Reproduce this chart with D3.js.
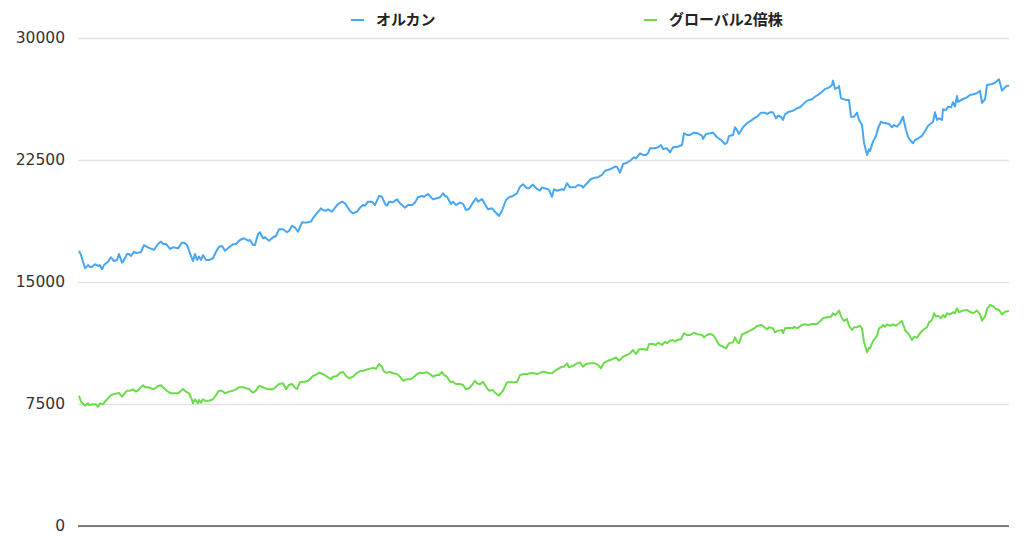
<!DOCTYPE html>
<html lang="ja">
<head>
    <meta charset="UTF-8" />
    <title>オルカン vs グローバル2倍株</title>
    <script src="https://d3js.org/d3.v7.min.js"></script>
    <style>
        body {
            margin: 0;
            background: #fff;
            overflow: hidden;
        }
        .tick text {
            font-family: "DejaVu Sans", sans-serif;
            font-size: 15.5px;
            fill: #333;
        }
        .legend text {
            font-family: "Noto Sans CJK JP", sans-serif;
            font-size: 15px;
            font-weight: bold;
            fill: #222;
        }
    </style>
</head>
<body>
<script>
    // 系列名
    const seriesNames = ['オルカン', 'グローバル2倍株'];
    const yTicks = [0, 7500, 15000, 22500, 30000];

    // オルカン (経過日数, 評価額)
    const orukanDay = [
        1, 3, 7, 10, 12, 14, 17, 21, 22, 24,
        26, 30, 33, 36, 39, 41, 44, 45, 49, 51,
        53, 56, 58, 63, 66, 70, 76, 80, 83, 85,
        88, 92, 95, 100, 104, 106, 109, 113, 115, 117,
        119, 121, 123, 125, 128, 131, 135, 138, 141, 144,
        147, 151, 155, 158, 162, 166, 170, 172, 175, 177,
        180, 182, 185, 187, 191, 195, 198, 201, 205, 209,
        211, 214, 217, 220, 224, 228, 233, 235, 238, 243,
        245, 248, 250, 254, 257, 260, 264, 267, 272, 275,
        279, 282, 285, 287, 290, 294, 297, 301, 304, 307,
        309, 311, 315, 319, 322, 327, 330, 334, 337, 340,
        344, 346, 350, 355, 359, 362, 365, 367, 369, 373,
        375, 378, 382, 385, 388, 391, 395, 398, 400, 404,
        407, 410, 414, 417, 421, 424, 428, 431, 435, 439,
        442, 445, 449, 451, 455, 459, 462, 464, 469, 471,
        474, 476, 479, 484, 486, 489, 492, 497, 500, 504,
        505, 509, 513, 517, 520, 524, 527, 532, 537, 539,
        542, 545, 549, 553, 556, 558, 562, 565, 568, 570,
        572, 577, 580, 583, 585, 589, 592, 595, 600, 604,
        606, 609, 612, 616, 620, 624, 625, 628, 632, 635,
        639, 643, 647, 649, 651, 655, 657, 659, 661, 665,
        669, 673, 676, 679, 683, 687, 689, 692, 695, 698,
        700, 703, 705, 707, 711, 715, 719, 722, 725, 729,
        734, 737, 740, 744, 747, 751, 754, 755, 757, 760,
        761, 763, 766, 768, 771, 773, 776, 779, 781, 784,
        786, 789, 791, 792, 795, 798, 800, 803, 805, 808,
        811, 814, 816, 819, 822, 825, 828, 830, 832, 835,
        837, 839, 844, 847, 850, 855, 857, 859, 861, 864,
        865, 868, 870, 873, 875, 877, 879, 880, 885, 889,
        892, 895, 899, 902, 904, 907, 909, 914, 917, 919,
        921, 924, 927, 929, 931
    ];
    const orukan = [
        16910, 16660, 15840, 16040, 15920, 15940, 16090, 15980, 16040, 15780,
        16040, 16250, 16520, 16290, 16350, 16720, 16190, 16250, 16720, 16720,
        16600, 16860, 16780, 16830, 17270, 17130, 16970, 17340, 17480, 17340,
        17340, 17030, 17130, 17070, 17420, 17420, 17270, 16600, 16290, 16720,
        16350, 16560, 16350, 16660, 16350, 16350, 16460, 16860, 17170, 17210,
        16920, 17130, 17320, 17340, 17580, 17690, 17540, 17580, 17270, 17270,
        17950, 18060, 17690, 17750, 17540, 17750, 17830, 18240, 18240, 18060,
        18140, 18460, 18340, 18090, 18670, 18650, 18720, 18920, 19150, 19530,
        19430, 19380, 19470, 19320, 19570, 19780, 19940, 19840, 19360, 19220,
        19320, 19570, 19730, 19690, 19940, 19940, 19730, 20290, 20240, 19800,
        19690, 19940, 19900, 20080, 19840, 19570, 19730, 19730, 19880, 20210,
        20290, 20240, 20410, 20080, 20150, 20210, 20450, 20290, 20240, 19800,
        19940, 19730, 19880, 19800, 19430, 19490, 19880, 20150, 19940, 20100,
        19780, 19470, 19530, 19320, 19060, 19380, 20040, 20210, 20290, 20450,
        20860, 21010, 20760, 20760, 20990, 20720, 20620, 20820, 20720, 20660,
        20240, 20700, 20610, 20700, 20660, 21070, 20820, 20820, 20960, 20900,
        20800, 21070, 21330, 21410, 21440, 21580, 21840, 21930, 22090, 22090,
        21720, 22250, 22330, 22500, 22670, 22600, 22910, 22810, 22810, 22910,
        23220, 23220, 23280, 23420, 23180, 23220, 22970, 23280, 23320, 23420,
        24140, 24040, 24040, 24180, 24140, 23990, 23790, 24100, 24140, 24180,
        23900, 23730, 23480, 23560, 23980, 24040, 24510, 24340, 24100, 24510,
        24760, 24920, 25060, 25160, 25410, 25410, 25330, 25430, 25430, 25060,
        25220, 25160, 24960, 25310, 25470, 25530, 25680, 25740, 25920, 26150,
        26230, 26390, 26500, 26700, 26870, 26950, 27110, 27380, 26870, 26970,
        27050, 26290, 26230, 26190, 26190, 25160, 25160, 25410, 24960, 24650,
        23560, 22810, 23160, 23050, 23630, 23980, 24450, 24850, 24790, 24760,
        24710, 24510, 24650, 24550, 24760, 25160, 24340, 23930, 23730, 23530,
        23730, 23790, 23980, 24280, 24590, 24850, 25430, 24960, 25060, 24960,
        25620, 25570, 25780, 25740, 26050, 25780, 26430, 26080, 26250, 26350,
        26500, 26540, 26600, 26760, 26020, 26230, 27110, 27170, 27250, 27360,
        27460, 26760, 26970, 27070, 27070
    ];

    // グローバル2倍株 (経過日数, 評価額)
    const globalDay = [
        1, 3, 7, 10, 11, 15, 18, 20, 22, 25,
        27, 30, 33, 36, 40, 41, 44, 46, 49, 52,
        55, 58, 61, 65, 67, 70, 73, 76, 80, 83,
        85, 90, 93, 96, 100, 102, 105, 108, 111, 114,
        115, 117, 120, 121, 123, 125, 127, 131, 135, 138,
        141, 144, 147, 151, 155, 158, 161, 165, 168, 171,
        175, 178, 181, 184, 187, 191, 195, 197, 201, 205,
        208, 211, 214, 216, 219, 222, 226, 230, 235, 238,
        241, 245, 249, 253, 255, 259, 262, 265, 268, 271,
        275, 279, 283, 286, 289, 293, 296, 298, 301, 304,
        306, 309, 312, 315, 319, 322, 325, 329, 332, 335,
        339, 342, 345, 349, 352, 355, 359, 361, 364, 366,
        369, 372, 375, 378, 382, 385, 388, 391, 394, 397,
        399, 402, 405, 408, 411, 415, 417, 421, 425, 429,
        432, 435, 439, 442, 446, 449, 452, 455, 459, 462,
        465, 470, 474, 477, 481, 484, 486, 489, 491, 495,
        499, 502, 505, 508, 512, 517, 520, 523, 526, 530,
        535, 538, 541, 545, 549, 552, 555, 558, 561, 565,
        569, 571, 575, 578, 580, 584, 587, 589, 592, 595,
        597, 599, 603, 606, 609, 612, 616, 620, 624, 626,
        629, 632, 635, 638, 641, 645, 648, 651, 655, 657,
        659, 661, 664, 668, 672, 676, 679, 683, 685, 689,
        691, 695, 697, 700, 704, 705, 707, 712, 715, 716,
        719, 724, 727, 730, 734, 739, 741, 745, 749, 753,
        755, 757, 759, 761, 764, 766, 769, 771, 774, 776,
        779, 782, 784, 786, 789, 791, 792, 795, 799, 801,
        804, 805, 807, 809, 812, 815, 818, 821, 824, 827,
        829, 831, 834, 836, 839, 842, 845, 849, 851, 854,
        856, 858, 860, 863, 865, 867, 869, 872, 875, 877,
        879, 881, 885, 889, 892, 895, 899, 902, 904, 907,
        909, 912, 915, 918, 921, 924, 927, 931
    ];
    const global2x = [
        8010, 7640, 7400, 7540, 7440, 7480, 7480, 7330, 7540, 7480,
        7640, 7850, 8050, 8110, 8160, 8190, 7950, 8110, 8320, 8320,
        8400, 8260, 8400, 8650, 8530, 8530, 8470, 8400, 8610, 8650,
        8530, 8260, 8160, 8160, 8160, 8260, 8420, 8260, 8160, 7750,
        7540, 7790, 7540, 7750, 7580, 7790, 7700, 7700, 7790, 8050,
        8320, 8320, 8160, 8260, 8320, 8400, 8530, 8530, 8470, 8420,
        8190, 8320, 8610, 8560, 8470, 8400, 8400, 8500, 8730, 8770,
        8420, 8670, 8730, 8560, 8420, 8850, 8870, 8910, 9220, 9310,
        9420, 9340, 9180, 9020, 9180, 9220, 9420, 9470, 9220, 9080,
        9180, 9420, 9550, 9550, 9630, 9690, 9730, 9650, 9960, 9790,
        9490, 9420, 9470, 9390, 9340, 9180, 8930, 9020, 9020, 9120,
        9340, 9420, 9390, 9450, 9340, 9180, 9280, 9280, 9470, 9280,
        9180, 8870, 8870, 8730, 8730, 8670, 8420, 8470, 8670, 8930,
        8770, 8710, 8870, 8560, 8320, 8360, 8190, 8010, 8320, 8830,
        8830, 8830, 8870, 9280, 9340, 9340, 9390, 9400, 9340, 9410,
        9490, 9420, 9390, 9550, 9690, 9790, 9790, 10000, 9760, 9850,
        10000, 10060, 9790, 9960, 10000, 10000, 9900, 9690, 10040, 10160,
        10270, 10370, 10160, 10410, 10510, 10620, 10820, 10570, 10860, 10880,
        10820, 11190, 11190, 11130, 11270, 11130, 11330, 11230, 11390, 11430,
        11330, 11430, 11480, 11850, 11740, 11740, 11880, 11780, 11740, 11600,
        11740, 11800, 11740, 11480, 11130, 11020, 10920, 11230, 11290, 11600,
        11330, 11230, 11780, 11880, 12010, 12150, 12300, 12360, 12300, 12090,
        12220, 12150, 11910, 12010, 12050, 11850, 12150, 12190, 12150, 12250,
        12150, 12360, 12400, 12360, 12420, 12420, 12520, 12770, 12830, 12870,
        13080, 12970, 13080, 13240, 12770, 12600, 12730, 12310, 12050, 12220,
        12220, 12310, 12150, 11330, 10680, 10960, 10920, 11370, 11700, 12150,
        12250, 12360, 12250, 12400, 12310, 12400, 12310, 12460, 12600, 12050,
        11910, 11780, 11430, 11640, 11580, 11850, 12050, 12220, 12520, 12660,
        13080, 12870, 12930, 12770, 12970, 12830, 13080, 13010, 13140, 13080,
        13380, 13140, 13240, 13280, 13170, 13080, 13240, 13030, 12620, 12870,
        13340, 13590, 13520, 13340, 13280, 13010, 13170, 13220
    ];

    const colors = ['#47a7f5', '#6ddc4c'];

    // サイズ
    const width = 1024;
    const height = 538;
    const margin = { top: 38, right: 15, bottom: 12, left: 78 };
    const plotW = width - margin.left - margin.right;
    const plotH = height - margin.top - margin.bottom;

    const svg = d3.select('body').append('svg').attr('width', width).attr('height', height);
    const g = svg.append('g').attr('transform', `translate(${margin.left},${margin.top})`);

    const x = d3.scaleLinear().domain([0, 931]).range([0, plotW]);
    const y = d3.scaleLinear().domain([0, 30000]).range([plotH, 0]);

    // 目盛りとグリッド
    const yAxis = g.append('g')
        .call(d3.axisLeft(y).tickValues(yTicks).tickSize(-plotW).tickPadding(13).tickFormat(d3.format('d')));
    yAxis.select('.domain').remove();
    yAxis.selectAll('.tick line').attr('stroke', '#e3e3e3').attr('stroke-width', 1.3);

    // 下の軸線
    g.append('line')
        .attr('x1', 0).attr('x2', plotW)
        .attr('y1', y(0)).attr('y2', y(0))
        .attr('stroke', '#555').attr('stroke-width', 1.3);

    // 折れ線
    const series = [
        { days: orukanDay, values: orukan },
        { days: globalDay, values: global2x }
    ];
    const line = d3.line().x((d) => x(d[0])).y((d) => y(d[1]));

    series.forEach((s, i) => {
        const pts = d3.zip(s.days, s.values);
        g.append('path')
            .datum(pts)
            .attr('fill', 'none')
            .attr('stroke', colors[i])
            .attr('stroke-width', 2)
            .attr('stroke-linejoin', 'round')
            .attr('d', line);
    });

    // 凡例
    const legendX = [351, 644];
    const legend = svg.append('g').attr('class', 'legend');
    seriesNames.forEach((name, i) => {
        const item = legend.append('g').attr('transform', `translate(${legendX[i]},20)`);
        item.append('line')
            .attr('x1', 0).attr('x2', 13)
            .attr('stroke', colors[i]).attr('stroke-width', 2);
        item.append('text')
            .attr('x', 25).attr('dy', '0.35em')
            .text(name);
    });
</script>
</body>
</html>
